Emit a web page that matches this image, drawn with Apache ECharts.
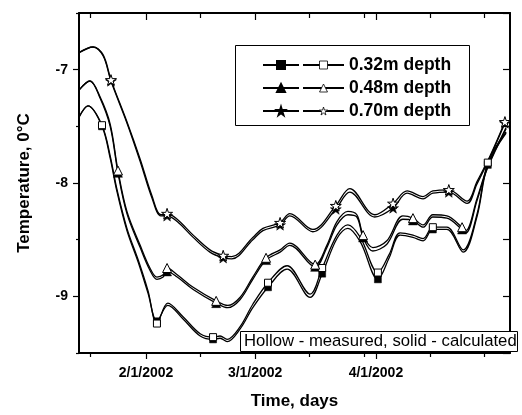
<!DOCTYPE html>
<html><head><meta charset="utf-8">
<script src="https://cdn.jsdelivr.net/npm/echarts@6/dist/echarts.min.js"></script>
<style>html,body{margin:0;padding:0;background:#fff}#c{width:522px;height:415px}</style>
</head><body><div id="c"></div>
<script>
// ---- data (day of year 2002, Jan 1 = 0; temperatures in deg C) ----
const days70 = [13.8, 17.4, 20.0, 22.0, 26.1, 29.5, 32.5, 34.8, 36.4, 39.0, 43.1, 47.4, 50.8, 53.0, 58.4, 61.0, 65.4, 67.9, 73.8, 79.7, 83.3, 89.7, 94.4, 98.0, 102.1, 104.6, 108.7, 113.4, 115.9, 119.3, 123.1];
const meas70 = [-6.85, -6.80, -6.87, -7.09, -7.46, -7.79, -8.11, -8.28, -8.27, -8.32, -8.46, -8.59, -8.64, -8.65, -8.48, -8.40, -8.35, -8.27, -8.41, -8.20, -8.05, -8.28, -8.18, -8.07, -8.12, -8.07, -8.06, -8.16, -7.99, -7.76, -7.46];
const calc70 = [-6.85, -6.80, -6.88, -7.10, -7.47, -7.81, -8.13, -8.29, -8.29, -8.34, -8.48, -8.61, -8.66, -8.67, -8.50, -8.42, -8.37, -8.29, -8.43, -8.23, -8.08, -8.30, -8.22, -8.09, -8.14, -8.09, -8.08, -8.18, -8.01, -7.77, -7.47];
const marks70 = [22.0, 36.4, 50.8, 65.4, 79.7, 94.4, 108.7, 123.1];

const days48 = [13.8, 16.6, 19.2, 21.8, 23.8, 26.1, 29.5, 32.0, 33.8, 35.4, 36.4, 39.0, 43.1, 49.0, 52.0, 55.1, 58.4, 61.8, 65.4, 67.9, 74.4, 77.4, 80.0, 82.8, 85.1, 86.7, 89.2, 92.8, 96.9, 99.5, 102.1, 104.6, 108.2, 112.1, 113.1, 115.9, 118.5, 123.4];
const meas48 = [-7.18, -7.10, -7.24, -7.48, -7.89, -8.25, -8.55, -8.75, -8.83, -8.81, -8.75, -8.81, -8.92, -9.04, -9.08, -9.01, -8.83, -8.66, -8.59, -8.53, -8.72, -8.55, -8.34, -8.25, -8.28, -8.46, -8.57, -8.51, -8.29, -8.31, -8.37, -8.28, -8.29, -8.39, -8.42, -8.14, -7.87, -7.51];
const calc48 = [-7.18, -7.10, -7.25, -7.50, -7.91, -8.27, -8.57, -8.77, -8.85, -8.83, -8.78, -8.83, -8.94, -9.06, -9.10, -9.03, -8.85, -8.68, -8.61, -8.55, -8.74, -8.57, -8.37, -8.28, -8.30, -8.48, -8.60, -8.54, -8.32, -8.33, -8.39, -8.30, -8.31, -8.41, -8.44, -8.16, -7.88, -7.52];
const marks48 = [23.8, 36.4, 49.0, 61.8, 74.4, 86.7, 99.5, 112.1];

const days32 = [13.8, 16.1, 19.7, 21.8, 23.5, 26.1, 29.0, 31.5, 33.8, 36.6, 40.5, 44.9, 48.2, 50.0, 51.8, 55.1, 58.4, 62.3, 67.2, 73.1, 76.2, 80.0, 82.8, 86.0, 90.5, 93.4, 96.2, 99.5, 102.1, 104.6, 108.2, 112.4, 115.9, 118.7, 123.4];
const meas32 = [-7.42, -7.32, -7.49, -7.76, -8.05, -8.40, -8.68, -8.95, -9.24, -9.06, -9.18, -9.33, -9.36, -9.35, -9.38, -9.27, -9.07, -8.88, -8.73, -8.98, -8.75, -8.46, -8.37, -8.48, -8.79, -8.63, -8.44, -8.46, -8.49, -8.39, -8.39, -8.59, -8.28, -7.82, -7.55];
const calc32 = [-7.42, -7.32, -7.50, -7.78, -8.07, -8.42, -8.70, -8.97, -9.22, -9.08, -9.20, -9.35, -9.38, -9.37, -9.40, -9.29, -9.10, -8.92, -8.76, -9.01, -8.80, -8.49, -8.40, -8.52, -8.85, -8.66, -8.46, -8.48, -8.51, -8.41, -8.41, -8.61, -8.30, -7.84, -7.56];
const marks32 = [19.7, 33.8, 48.2, 62.3, 76.2, 90.5, 104.6, 118.7];

const xLabelDays = [31, 59, 90];
const xLabels = ['2/1/2002', '3/1/2002', '4/1/2002'];
const xMinorDays = [16.6, 44.9, 72.8, 86.9, 103.9, 117.7];
const yLabelValues = [-9, -8, -7];
const yMinorValues = [-9.5, -8.5, -7.5, -6.5];
const depthNames = ['0.32m depth', '0.48m depth', '0.70m depth'];
const calcNames = ['0.32m calculated', '0.48m calculated', '0.70m calculated'];
const noteText = 'Hollow - measured, solid - calculated';

// ---- chart ----
const FONT = '"Liberation Sans", Arial, sans-serif';
const STAR = 'path://M50,0L61.2,34.5L97.6,34.5L68.2,55.9L79.4,90.5L50,69.1L20.6,90.5L31.8,55.9L2.4,34.5L38.8,34.5Z';

function build(days, vals, marks) {
  return days.map((d, i) => marks.indexOf(d) >= 0 ? { value: [d, vals[i]] } : { value: [d, vals[i]], symbol: 'none' });
}
function lineSeries(name, data, symbol, size, hollow) {
  return {
    type: 'line', name: name, data: data, smooth: 0.35,
    symbol: symbol, symbolSize: size, symbolKeepAspect: true, showSymbol: true,
    lineStyle: { color: '#000', width: 1.3 },
    itemStyle: hollow ? { color: '#fff', borderColor: '#000', borderWidth: 1 } : { color: '#000', borderColor: '#000', borderWidth: 0.5 },
    emphasis: { disabled: true }, silent: true, animation: false, clip: true
  };
}
const series = [
  lineSeries(calcNames[0], build(days32, calc32, marks32), 'rect', 7, false),
  lineSeries(calcNames[1], build(days48, calc48, marks48), 'triangle', 9, false),
  lineSeries(calcNames[2], build(days70, calc70, marks70), STAR, 11, false),
  lineSeries(depthNames[0], build(days32, meas32, marks32), 'rect', 7, true),
  lineSeries(depthNames[1], build(days48, meas48, marks48), 'triangle', 9, true),
  lineSeries(depthNames[2], build(days70, meas70, marks70), STAR, 11, true)
];

const XMIN = 13.8, XMAX = 124.4, YMIN = -9.5, YMAX = -6.5;
const lineStyleAxis = { color: '#000', width: 2 };
function xAx(pos, ticks, len, inside, withLabel, showLine, name) {
  const o = {
    type: 'value', position: pos, min: XMIN, max: XMAX, gridIndex: 0,
    splitLine: { show: false },
    axisLine: { show: showLine, onZero: false, lineStyle: lineStyleAxis },
    axisTick: { show: true, inside: inside, length: len, customValues: ticks, lineStyle: { color: '#000', width: 1.2 } },
    axisLabel: withLabel ? {
      show: true, customValues: xLabelDays, margin: 13, color: '#000',
      fontFamily: FONT, fontWeight: 'bold', fontSize: 14,
      formatter: v => { const i = xLabelDays.indexOf(Math.round(v)); return i >= 0 ? xLabels[i] : ''; }
    } : { show: false }
  };
  if (name) {
    o.name = name; o.nameLocation = 'middle'; o.nameGap = 40;
    o.nameTextStyle = { fontFamily: FONT, fontWeight: 'bold', fontSize: 17, color: '#000' };
  }
  return o;
}
function yAx(pos, ticks, len, inside, withLabel, showLine, name) {
  const o = {
    type: 'value', position: pos, min: YMIN, max: YMAX, gridIndex: 0,
    splitLine: { show: false },
    axisLine: { show: showLine, onZero: false, lineStyle: lineStyleAxis },
    axisTick: { show: true, inside: inside, length: len, customValues: ticks, lineStyle: { color: '#000', width: 1.2 } },
    axisLabel: withLabel ? {
      show: true, customValues: yLabelValues, margin: 11, color: '#000',
      fontFamily: FONT, fontWeight: 'bold', fontSize: 14, formatter: v => String(v)
    } : { show: false }
  };
  if (name) {
    o.name = name; o.nameLocation = 'middle'; o.nameGap = 46;
    o.nameTextStyle = { fontFamily: FONT, fontWeight: 'bold', fontSize: 17, color: '#000' };
  }
  return o;
}

const option = {
  animation: false,
  backgroundColor: '#fff',
  grid: { left: 79, right: 12, top: 13, bottom: 60, containLabel: false },
  xAxis: [
    xAx('bottom', xLabelDays, 6, false, true, true, 'Time, days'),
    xAx('bottom', xMinorDays, 4, false, false, false),
    xAx('top', xLabelDays, 7, true, false, true),
    xAx('top', xMinorDays, 5, true, false, false)
  ],
  yAxis: [
    yAx('left', yLabelValues, 6, false, true, true, 'Temperature, 0\u00B0C'),
    yAx('left', yMinorValues, 3, false, false, false),
    yAx('right', yLabelValues, 7, true, false, true),
    yAx('right', yMinorValues, 7, true, false, false)
  ],
  legend: [
    {
      data: calcNames, orient: 'vertical', left: 262, top: 56, padding: 0,
      itemWidth: 36, itemHeight: 10, itemGap: 5, selectedMode: false,
      formatter: () => ' ',
      textStyle: { fontFamily: FONT, fontWeight: 'bold', fontSize: 17.5, color: '#000' }
    },
    {
      data: depthNames, orient: 'vertical', left: 302, top: 56, padding: 0,
      itemWidth: 41, itemHeight: 10, itemGap: 5, selectedMode: false,
      itemStyle: { borderWidth: 0.8 },
      textStyle: { fontFamily: FONT, fontWeight: 'bold', fontSize: 17.5, color: '#000' }
    }
  ],
  graphic: [
    { type: 'rect', z: 100, shape: { x: 235.5, y: 45.5, width: 234, height: 80 }, style: { fill: 'none', stroke: '#000', lineWidth: 1 } },
    { type: 'rect', z: 100, shape: { x: 240.5, y: 331.5, width: 277, height: 20 }, style: { fill: '#fff', stroke: '#000', lineWidth: 1 } },
    { type: 'text', z: 101, x: 244, y: 341.5, style: { text: noteText, font: '16.7px ' + FONT, fill: '#000', verticalAlign: 'middle', align: 'left' } }
  ],
  series: series
};
series.forEach(s => { s.xAxisIndex = 0; s.yAxisIndex = 0; });
const chart = echarts.init(document.getElementById('c'), null, { renderer: 'canvas' });
chart.setOption(option);
</script>
</body></html>
